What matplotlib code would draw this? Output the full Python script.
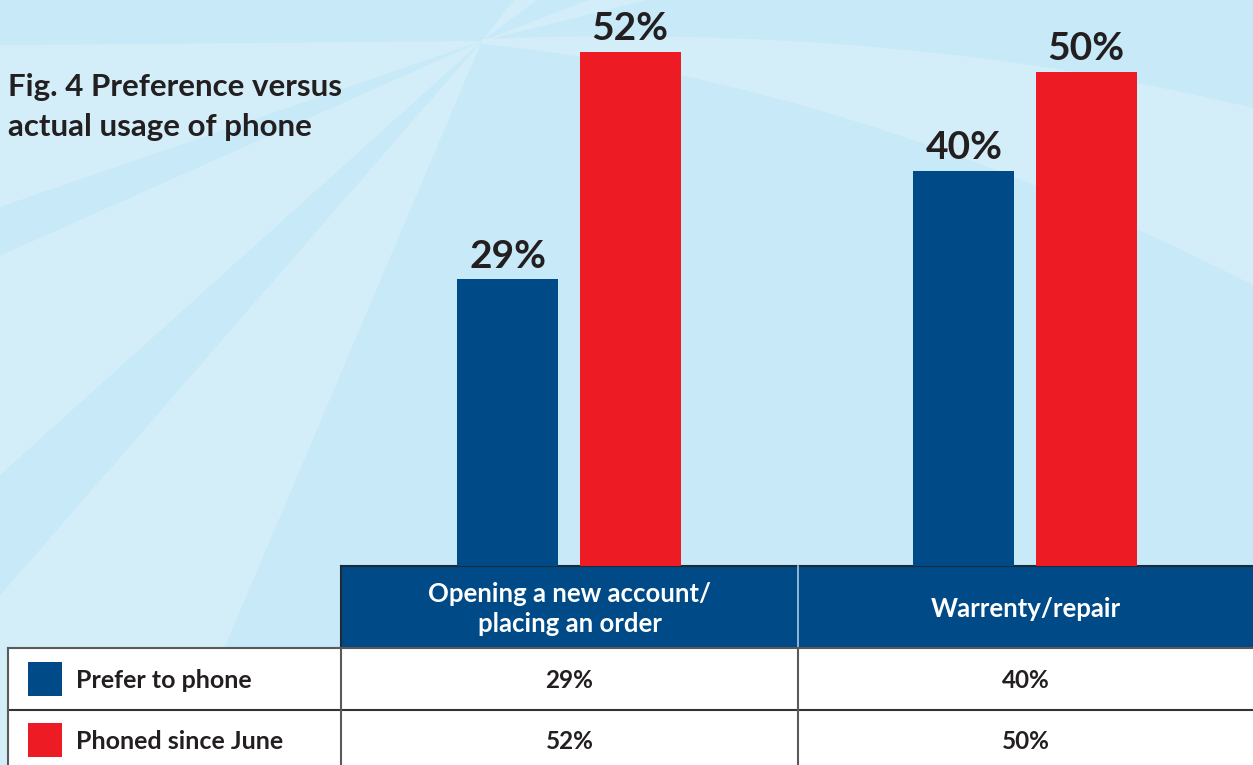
import numpy as np
import matplotlib.pyplot as plt
from matplotlib.patches import Rectangle, Wedge, PathPatch
from matplotlib.path import Path

plt.rcParams['font.family'] = ['Lato', 'DejaVu Sans']

# data
categories = ['Opening a new account/\nplacing an order', 'Warrenty/repair']
series_names = ['Prefer to phone', 'Phoned since June']
prefer = [29, 40]
phoned = [52, 50]
series_colors = ['#004a87', '#ed1c24']
title = 'Fig. 4 Preference versus\nactual usage of phone'

text_color = '#231f20'
base_bg = '#c7e9f8'
ray_bg = '#d3eef9'

W, H = 1253, 765
fig = plt.figure(figsize=(W / 100, H / 100), dpi=100)

# background layer in pixel coordinates (y down)
bg = fig.add_axes([0, 0, 1, 1])
bg.set_xlim(0, W)
bg.set_ylim(H, 0)
bg.axis('off')
bg.add_patch(Rectangle((0, 0), W, H, color=base_bg, lw=0, zorder=0))

# sunburst rays
cx, cy = 482, 41
for a0, a1 in [(113, 131), (138, 156), (161, 179.5), (-52, -37), (-21, -14)]:
    bg.add_patch(Wedge((cx, cy), 2500, a0, a1, color=ray_bg, lw=0, zorder=1))

# curved light band sweeping to the right
band = Path([(cx, cy - 2), (900, 22), (W, 108), (W, 285), (850, 80), (cx, cy + 3), (cx, cy - 2)],
            [Path.MOVETO, Path.CURVE3, Path.CURVE3, Path.LINETO, Path.CURVE3, Path.CURVE3, Path.CLOSEPOLY])
bg.add_patch(PathPatch(band, fc=ray_bg, lw=0, zorder=1))

bg.text(8, 73, title, fontsize=22.5, fontweight='bold', color=text_color,
        va='top', ha='left', linespacing=1.5, zorder=5)

# bar chart: baseline sits on the top edge of the table
base_y, col_l, col_r = 566, 341, W
ax = fig.add_axes([col_l / W, (H - base_y) / H, (col_r - col_l) / W, base_y / H])
ax.patch.set_alpha(0)
ax.set_xlim(-0.5, len(categories) - 0.5)
ax.set_ylim(0, base_y / 9.88)
ax.axis('off')

x = np.arange(len(categories))
bw, off = 0.2215, 0.134
for vals, color, dx in [(prefer, series_colors[0], -off), (phoned, series_colors[1], off)]:
    bars = ax.bar(x + dx, vals, width=bw, color=color, lw=0)
    for b, v in zip(bars, vals):
        ax.annotate(f'{v}%', (b.get_x() + b.get_width() / 2, v), xytext=(0, 8.5),
                    textcoords='offset points', ha='center', va='baseline',
                    fontsize=28, fontweight='bold', color=text_color)

# data table below the bars
hdr_top, hdr_bot, row1_bot = 566, 648, 710
col_x = [8, 341, 798, W]
bg.add_patch(Rectangle((col_x[1], hdr_top), W - col_x[1], hdr_bot - hdr_top,
                       fc=series_colors[0], lw=0, zorder=3))
bg.add_patch(Rectangle((col_x[0], hdr_bot), W - col_x[0], H - hdr_bot + 2,
                       fc='white', lw=0, zorder=3))
bg.plot([col_x[1], W], [hdr_top, hdr_top], color='#1c2b3a', lw=1.5, zorder=4)
bg.plot([col_x[1], col_x[1]], [hdr_top, hdr_bot], color='#1c2b3a', lw=1.5, zorder=4)
bg.plot([col_x[2], col_x[2]], [hdr_top, hdr_bot], color='#a9c9e2', lw=1.2, zorder=4)
bg.plot([col_x[0], W], [hdr_bot, hdr_bot], color='#5a5a5a', lw=1.5, zorder=4)
bg.plot([col_x[0], W], [row1_bot, row1_bot], color='#333333', lw=1.5, zorder=4)
for xv in col_x[:3]:
    bg.plot([xv, xv], [hdr_bot, H + 2], color='#5a5a5a', lw=1.5, zorder=4)

col_centers = [(col_x[i + 1] + col_x[i + 2]) / 2 for i in range(len(categories))]
for xc, cat in zip(col_centers, categories):
    bg.text(xc, 609, cat, ha='center', va='center', fontsize=18.5, fontweight='bold',
            color='white', linespacing=1.3, zorder=5)

row_baselines = [688, 749]
for yb, name, color, vals in zip(row_baselines, series_names, series_colors, [prefer, phoned]):
    bg.add_patch(Rectangle((28, yb - 26), 34, 34, fc=color, lw=0, zorder=5))
    bg.text(76, yb, name, ha='left', va='baseline', fontsize=18, fontweight='bold',
            color=text_color, zorder=5)
    for xc, v in zip(col_centers, vals):
        bg.text(xc, yb, f'{v}%', ha='center', va='baseline', fontsize=17.5,
                fontweight='bold', color=text_color, zorder=5)

fig.savefig('out.png', dpi=100)
